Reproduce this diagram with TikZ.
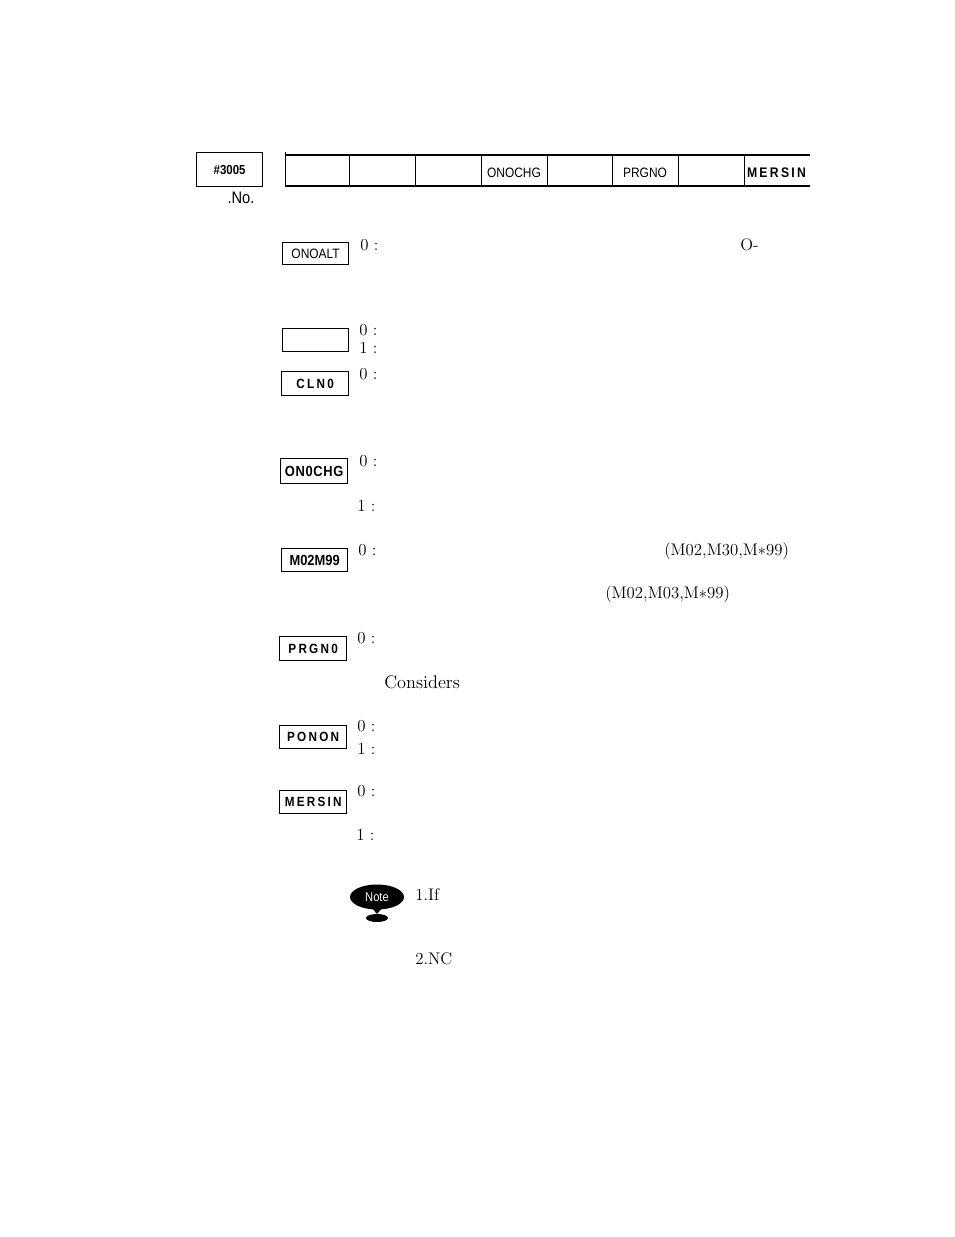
\documentclass[tikz,border=0pt]{standalone}
\usepackage{fontspec}
\setmainfont{Latin Modern Roman}
\newfontfamily\labelfont[FakeStretch=0.88]{Liberation Sans}
\tikzset{
  x=0.75pt,y=-0.75pt,
  regbox/.style={draw=black,line width=0.95pt,fill=white,rectangle,inner sep=0pt,anchor=north west,font=\labelfont\fontsize{10.2}{12}\selectfont},
  boldbox/.style={regbox,font=\labelfont\bfseries\fontsize{10}{12}\selectfont},
  celltext/.style={inner sep=0pt,anchor=center,font=\labelfont\fontsize{10.2}{12}\selectfont},
  serif/.style={inner sep=0pt,anchor=base west,font=\fontsize{12.6}{14}\selectfont},
  rule/.style={draw=black,line width=1.2pt},
  thin rule/.style={draw=black,line width=0.75pt}
}
\newcommand{\bx}[6]{\node[#1,minimum width=#4*0.75pt,minimum height=#5*0.75pt] (#2) at #3 {#6};}
\begin{document}
\begin{tikzpicture}
\useasboundingbox (0,0) rectangle (954,1237);
\bx{regbox}{reg}{(196,152)}{66}{34}{\raisebox{-1.5pt}{\labelfont\bfseries\fontsize{9.8}{11}\selectfont\#3005}}
\node[inner sep=0pt,font=\labelfont\fontsize{12.5}{14}\selectfont] (no) at (241,198) {.No.};
% bit table
\coordinate (tl) at (285,155);
\coordinate (tr) at (810,155);
\coordinate (bl) at (285,186);
\coordinate (br) at (810,186);
\coordinate (tick) at (285,152);
\draw[rule] (tl) -- (tr);
\draw[rule] (bl) -- (br);
\draw[thin rule] (tick) -- (bl);
\foreach \X in {349,415,481,547,612,678,744}{\draw[thin rule] (\X,155) -- (\X,186);}
\node[celltext] (c4) at (514,173) {ONOCHG};
\node[celltext] (c6) at (645,173) {PRGNO};
\node[celltext,font=\labelfont\bfseries\fontsize{10.4}{12}\selectfont] (c8) at (776.5,172.5) {M\,E\,R\,S\,I\,N};
% parameter boxes
\bx{regbox}{b1}{(282,242)}{66}{22}{ONOALT}
\bx{regbox}{b2}{(282,328)}{66}{23}{}
\bx{boldbox}{b3}{(281,371)}{67}{24}{C\,L\,N\,0}
\bx{boldbox}{b4}{(280,458)}{67}{25}{\fontsize{11}{12}\selectfont O\kern.5pt N\kern.5pt 0\kern.5pt C\kern.5pt H\kern.5pt G}
\bx{boldbox}{b5}{(281,548)}{66}{23}{\fontsize{11}{12}\selectfont M02M99}
\bx{boldbox}{b6}{(279,636)}{67}{24}{P\,R\,G\,N\,0}
\bx{boldbox}{b7}{(279,725)}{67}{23}{P\,O\,N\,O\,N}
\bx{boldbox}{b8}{(279,790)}{67}{23}{M\,E\,R\,S\,I\,N}
% serif texts
\node[serif] (t1) at (360,250.5) {0 :};
\node[serif] (t2) at (740,250.5) {O-};
\node[serif] (t3) at (359,335.5) {0 :};
\node[serif] (t4) at (359,353.5) {1 :};
\node[serif] (t5) at (359,379.5) {0 :};
\node[serif] (t6) at (359,466.5) {0 :};
\node[serif] (t7) at (357,511.5) {1 :};
\node[serif] (t8) at (358,555.5) {0 :};
\node[serif] (t9) at (664,555.5) {(M02,M30,M∗99)};
\node[serif] (t10) at (605,598.5) {(M02,M03,M∗99)};
\node[serif] (t11) at (357,643.5) {0 :};
\node[serif,font=\fontsize{13.7}{15}\selectfont] (t12) at (384,688.5) {Considers};
\node[serif] (t13) at (357,731.5) {0 :};
\node[serif] (t14) at (357,754.5) {1 :};
\node[serif] (t15) at (357,796.5) {0 :};
\node[serif] (t16) at (356,840.5) {1 :};
\node[serif] (t17) at (415,900.5) {1.If};
\node[serif] (t18) at (415,964.5) {2.NC};
% note icon
\fill[black] (377,897) ellipse [x radius=27,y radius=12.5];
\fill[black] (371,907) -- (383,907) -- (377,914) -- cycle;
\fill[black] (377,918) ellipse [x radius=11,y radius=4];
\node[inner sep=0pt,text=white,font=\labelfont\fontsize{9.5}{11}\selectfont] (note) at (377,897) {Note};
\end{tikzpicture}
\end{document}
